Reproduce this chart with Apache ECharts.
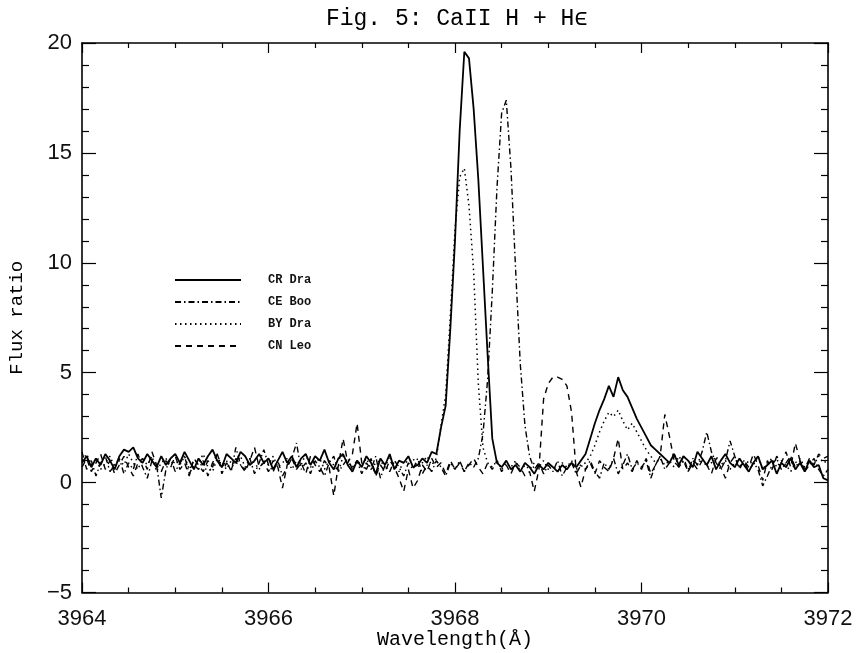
<!DOCTYPE html>
<html><head><meta charset="utf-8">
<script src="https://cdn.jsdelivr.net/npm/echarts@6/dist/echarts.min.js"></script>
<style>html,body{margin:0;padding:0;background:#fff}#c{width:857px;height:653px}</style>
</head><body><div id="c"></div>
<script>
// Sampling of the spectra (wavelength in Å)
const lambdaStart = 3964;
const lambdaStep = 0.05;

const seriesNames = ['CR Dra', 'CE Boo', 'BY Dra', 'CN Leo'];

const crDra = [
  0.9,1.2,0.7,1.1,0.8,1.3,1.0,0.6,1.2,1.5,1.4,1.6,1.1,0.9,1.3,1.0,0.7,1.2,0.8,1.1,
  1.3,0.9,1.4,1.0,0.6,1.1,0.8,1.2,1.5,1.0,0.7,1.3,1.1,0.9,1.4,1.2,0.8,1.0,1.3,0.9,
  1.1,0.6,1.0,1.4,0.9,1.2,0.7,1.1,1.3,0.8,1.2,1.0,1.5,0.9,0.6,1.1,1.3,0.8,0.5,1.0,
  0.7,1.2,0.9,0.4,1.1,0.8,1.3,0.6,1.0,0.9,1.2,0.7,0.8,1.1,0.9,1.4,1.3,2.5,3.5,7.0,
  11.0,16.0,19.6,19.3,17.0,13.8,9.8,5.8,2.0,0.9,0.7,1.0,0.6,0.8,0.5,0.9,0.7,0.4,0.8,0.6,
  0.9,0.7,0.5,0.8,0.6,0.9,0.7,1.0,1.3,2.0,2.7,3.3,3.8,4.4,3.9,4.8,4.2,3.9,3.4,2.9,
  2.5,2.1,1.7,1.5,1.3,
  1.1,0.9,1.3,0.8,1.2,1.0,0.7,1.4,1.1,0.8,1.2,0.6,1.0,1.3,0.9,0.7,1.1,0.8,0.5,0.9,
  1.2,0.6,0.8,1.0,0.4,0.9,0.7,1.1,0.6,0.9,0.5,1.0,0.7,0.8,0.2,0.1
];
const ceBoo = [
  1.4,0.6,1.0,0.3,0.9,1.2,0.5,0.8,1.1,0.4,0.9,0.6,1.3,0.7,0.2,1.0,0.8,-0.7,0.6,1.1,
  0.5,0.9,1.2,0.4,0.8,0.6,1.0,0.3,0.9,1.3,0.7,1.0,0.5,1.6,0.8,0.6,1.1,0.4,0.9,1.5,
  0.8,0.5,1.0,0.3,0.7,1.1,1.8,0.6,0.9,0.4,1.0,0.7,0.3,0.9,1.2,0.5,0.8,1.1,0.6,1.0,
  0.4,0.9,0.6,1.2,0.2,0.8,0.5,1.0,0.7,0.3,0.9,0.6,1.1,0.4,0.8,0.5,1.0,0.7,0.3,0.9,
  0.6,1.0,0.5,0.9,0.7,1.1,2.2,4.7,8.7,13.4,16.8,17.4,14.3,9.7,5.4,2.6,1.2,0.6,0.9,0.4,
  0.8,0.5,1.0,0.3,0.7,0.9,0.4,0.8,0.6,1.0,0.5,0.2,0.9,0.6,1.1,0.4,0.8,1.3,0.6,0.9,
  0.7,1.0,0.2,0.8,1.2,0.6,0.9,1.3,0.7,1.0,0.5,1.1,0.8,1.4,2.3,1.4,0.9,0.6,1.0,1.9,
  1.2,0.7,1.0,0.5,0.9,0.6,-0.15,0.3,0.8,1.1,0.6,0.9,1.2,0.7,1.0,0.5,0.8,1.1,0.6,0.3,0.6
];
const byDra = [
  1.0,1.3,0.8,1.1,0.6,0.9,1.2,0.7,1.0,0.8,1.3,0.9,0.6,1.1,0.8,1.2,0.5,0.9,1.1,0.7,
  1.0,0.8,1.2,0.6,1.0,0.9,1.3,0.7,0.5,1.1,0.9,0.6,1.0,0.8,1.2,0.7,1.1,0.9,0.6,1.0,
  0.8,1.2,0.7,0.9,1.1,0.6,1.0,0.8,1.3,0.7,0.9,1.1,0.6,1.0,0.8,0.5,1.2,0.9,0.7,1.0,
  0.8,1.1,0.6,0.9,1.0,0.7,1.2,0.8,0.5,1.0,0.9,1.1,0.7,0.9,1.2,0.8,1.1,2.6,4.0,7.6,
  11.5,13.9,14.3,12.6,9.6,4.5,1.6,0.9,0.7,1.0,0.6,0.9,0.7,1.0,0.5,0.8,0.6,0.9,0.7,1.0,
  0.6,0.8,0.5,0.9,0.7,1.0,0.6,0.8,0.9,1.2,1.7,2.3,2.8,3.2,3.0,3.3,2.8,2.4,2.7,2.3,
  1.9,1.5,1.2,0.9,1.1,0.8,1.0,0.7,1.2,0.9,0.6,1.0,0.8,1.1,0.7,0.9,1.2,0.8,1.0,0.6,
  0.9,1.1,0.7,1.0,0.8,1.2,0.6,0.9,1.1,0.7,1.0,0.8,0.5,0.9,1.1,0.7,1.0,0.8,1.2,0.9,1.0
];
const cnLeo = [
  0.7,1.1,0.5,0.9,1.3,0.6,1.0,0.4,0.8,1.2,0.7,0.3,0.9,1.1,0.6,1.4,0.8,0.5,1.0,0.7,
  1.2,0.6,0.9,0.3,1.1,0.8,0.5,1.0,0.7,1.3,0.4,0.9,0.6,1.1,0.8,0.5,1.0,1.6,0.7,0.9,
  0.5,1.0,0.7,-0.25,0.8,1.1,0.6,0.9,0.4,1.2,0.8,0.5,1.0,0.7,-0.6,0.8,2.0,0.9,1.3,2.7,
  0.9,0.6,1.1,0.3,0.8,0.5,1.0,0.7,0.2,-0.4,0.6,-0.25,0.1,0.8,0.5,1.1,0.7,0.9,0.4,1.0,
  0.6,0.9,0.5,0.8,1.1,0.7,0.4,0.9,0.6,1.0,0.5,0.8,0.4,0.9,0.7,0.3,0.5,-0.4,0.6,3.8,
  4.5,4.8,4.8,4.7,4.4,3.2,0.5,-0.2,0.6,0.9,0.4,1.0,0.7,0.5,1.1,2.0,0.6,0.9,0.5,1.0,
  0.6,1.1,0.4,0.8,1.2,3.1,2.1,1.0,0.7,1.2,0.5,0.9,0.6,1.0,0.8,0.4,1.1,0.7,0.2,0.9,
  1.2,0.6,1.0,0.7,1.3,0.8,0.1,1.0,0.6,1.2,0.9,1.4,0.7,1.8,1.0,0.6,1.1,0.8,1.3,1.1,1.2
];

const xMin = 3964, xMax = 3972, xInterval = 2;
const yMin = -5, yMax = 20, yInterval = 5;

function pairs(arr) {
  return arr.map((v, i) => [+(lambdaStart + i * lambdaStep).toFixed(3), v]);
}

const monoFont = '"Liberation Mono", "DejaVu Sans Mono", monospace';
const tickFont = '"Liberation Sans", Arial, sans-serif';

const lineStyles = [
  { width: 1.8, type: 'solid' },
  { width: 1.4, type: [6, 3, 1.5, 3] },
  { width: 1.5, type: [1.5, 3.5] },
  { width: 1.4, type: [6, 5] }
];
const allData = [crDra, ceBoo, byDra, cnLeo];

const chart = echarts.init(document.getElementById('c'), null, { renderer: 'canvas' });

const axisLine = { show: true, onZero: false, lineStyle: { color: '#000', width: 1.6 } };
const fmtY = v => String(v).replace('-', '\u2212');
const fmtX = v => String(v);

chart.setOption({
  animation: false,
  backgroundColor: '#fff',
  title: {
    text: 'Fig. 5: CaII H + H\u03f5',
    left: 452, top: 2, textAlign: 'center',
    textStyle: { fontFamily: monoFont, fontSize: 23, fontWeight: 'normal', color: '#000' }
  },
  legend: {
    data: seriesNames,
    orient: 'vertical',
    left: 174, top: 274, padding: 0,
    itemWidth: 66, itemHeight: 14, itemGap: 10,
    itemStyle: { color: 'rgba(0,0,0,0)', borderWidth: 0, opacity: 0 },
    textStyle: { fontFamily: monoFont, fontSize: 12, fontWeight: 'bold', color: '#111', padding: [0, 0, 0, 22] }
  },
  grid: { left: 82, right: 29, top: 43, bottom: 60.5, containLabel: false, outerBoundsMode: 'none' },
  xAxis: [
    {
      type: 'value', min: xMin, max: xMax, interval: xInterval, position: 'bottom',
      name: 'Wavelength(\u00c5)', nameLocation: 'middle', nameGap: 37, nameMoveOverlap: false,
      nameTextStyle: { fontFamily: monoFont, fontSize: 20, color: '#000' },
      axisLine: axisLine,
      axisTick: { show: true, inside: true, length: 10, lineStyle: { color: '#000', width: 1.2 } },
      minorTick: { show: true, splitNumber: 4, length: 5, lineStyle: { color: '#000', width: 1.2 } },
      axisLabel: { fontFamily: tickFont, fontSize: 22, color: '#111', margin: 15, formatter: fmtX },
      splitLine: { show: false }
    },
    {
      type: 'value', min: xMin, max: xMax, interval: xInterval, position: 'top',
      axisLine: axisLine,
      axisTick: { show: true, inside: true, length: 10, lineStyle: { color: '#000', width: 1.2 } },
      minorTick: { show: true, splitNumber: 4, length: 5, lineStyle: { color: '#000', width: 1.2 } },
      axisLabel: { show: false }, splitLine: { show: false }
    }
  ],
  yAxis: [
    {
      type: 'value', min: yMin, max: yMax, interval: yInterval, position: 'left',
      name: 'Flux ratio', nameLocation: 'middle', nameGap: 56, nameRotate: 90, nameMoveOverlap: false,
      nameTextStyle: { fontFamily: monoFont, fontSize: 19, color: '#000' },
      axisLine: axisLine,
      axisTick: { show: true, inside: true, length: 14, lineStyle: { color: '#000', width: 1.2 } },
      minorTick: { show: true, splitNumber: 5, length: 7, lineStyle: { color: '#000', width: 1.2 } },
      axisLabel: { fontFamily: tickFont, fontSize: 22, color: '#111', margin: 10, formatter: fmtY },
      splitLine: { show: false }
    },
    {
      type: 'value', min: yMin, max: yMax, interval: yInterval, position: 'right',
      axisLine: axisLine,
      axisTick: { show: true, inside: true, length: 14, lineStyle: { color: '#000', width: 1.2 } },
      minorTick: { show: true, splitNumber: 5, length: 7, lineStyle: { color: '#000', width: 1.2 } },
      axisLabel: { show: false }, splitLine: { show: false }
    }
  ],
  series: seriesNames.map((name, k) => ({
    name: name,
    type: 'line',
    xAxisIndex: 0, yAxisIndex: 0,
    data: pairs(allData[k]),
    symbol: 'none', showSymbol: false,
    color: '#000',
    lineStyle: Object.assign({ color: '#000' }, lineStyles[k]),
    z: 10 - k
  }))
});
</script></body></html>
